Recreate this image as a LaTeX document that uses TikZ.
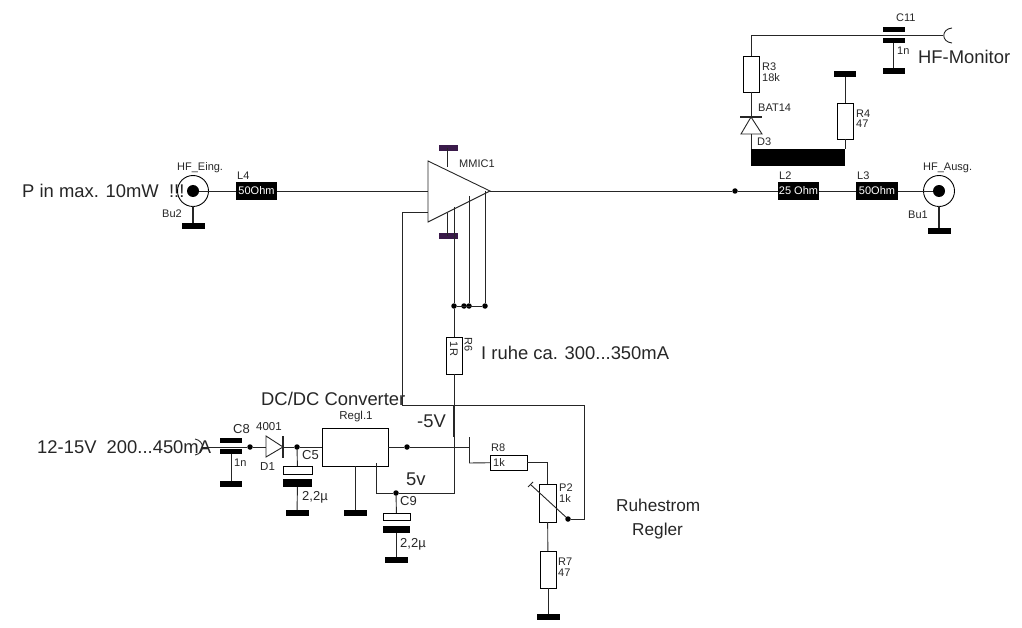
\documentclass[tikz,border=0pt]{standalone}
\usepackage{fontspec}
\setmainfont{Liberation Sans}
\usetikzlibrary{positioning,calc}
\definecolor{gndpurple}{HTML}{3A1A4A}
\tikzset{
  wire/.style={line width=0.9pt,black!85},
  resbox/.style={draw,line width=0.9pt,fill=white,inner sep=0pt,outer sep=0pt},
  linebox/.style={fill=black,text=white,inner sep=0pt,outer sep=0pt,minimum width=41pt,minimum height=17.5pt,font=\fontsize{11}{12}\selectfont},
  gndbar/.style={fill=black,inner sep=0pt,outer sep=0pt,minimum width=23pt,minimum height=6pt},
  plate/.style={fill=black,inner sep=0pt,outer sep=0pt,minimum width=22pt,minimum height=5.5pt},
  jdot/.style={circle,fill=black,inner sep=0pt,outer sep=0pt,minimum size=5.5pt},
  bnc/.style={circle,draw,line width=0.9pt,inner sep=0pt,outer sep=0pt,minimum size=31pt},
  lbl/.style={font=\fontsize{11}{12}\selectfont,inner sep=0pt,anchor=west,text=black!85},
  midlbl/.style={font=\fontsize{13}{14}\selectfont,inner sep=0pt,anchor=west,text=black!85},
  biglbl/.style={font=\fontsize{18.4}{20}\selectfont,inner sep=0pt,anchor=west,text=black!85},
  sidelbl/.style={font=\fontsize{17.2}{20}\selectfont,inner sep=0pt,anchor=west,text=black!85}
}
\begin{document}
\begin{tikzpicture}[x=1pt,y=-1pt]
  \useasboundingbox (0,0) rectangle (1022,628);

  \node[biglbl] (pinlbl) at (22,191) {P in max. 10mW\ \ !!!};
  \node[bnc] (bu2) at (193,191) {};
  \node[jdot,minimum size=12pt] (bu2dot) at (193,191) {};
  \node[gndbar] (bu2gnd) at (193,226) {};
  \node[linebox] (l4) at (256.5,191) {50Ohm};
  \node[lbl] (hfeing) at (177,168) {HF\_Eing.};
  \node[lbl] (bu2lbl) at (162,214) {Bu2};
  \node[lbl] (l4lbl) at (237,176) {L4};
  \draw[wire] (bu2dot) -- (l4);
  \draw[wire,line width=1.3pt] (bu2) -- (bu2gnd);

  \coordinate (ampa) at (428,161);
  \coordinate (ampb) at (428,222);
  \coordinate (amptip) at (490,191);
  \coordinate (ampin) at (428,191);
  \coordinate (ampfb) at (428,212);
  \coordinate (amptop) at (447,167);
  \coordinate (ampbot) at (447,213);
  \coordinate (pina) at (454,207);
  \coordinate (pinb) at (469,196);
  \coordinate (pinc) at (485,191);
  \draw[wire] (ampa) -- (ampb) -- (amptip) -- cycle;
  \node[gndbar,fill=gndpurple,minimum width=19pt] (topgnd) at (448.5,148) {};
  \node[gndbar,fill=gndpurple,minimum width=19pt] (botgnd) at (448.5,236) {};
  \node[lbl] (mmic) at (459,164) {MMIC1};
  \draw[wire] (amptop) -- (amptop |- topgnd);
  \draw[wire] (ampbot) -- (ampbot |- botgnd);
  \draw[wire] (l4) -- (ampin);

  \node[jdot] (ja) at (454,306) {};
  \node[jdot] (jb) at (464,306) {};
  \node[jdot] (jc) at (469,306) {};
  \node[jdot] (jd) at (485,306) {};
  \draw[wire] (ja) -- (jd);
  \draw[wire] (pina) -- (ja);
  \draw[wire] (pinb) -- (jc);
  \draw[wire] (pinc) -- (jd);
  \node[resbox,minimum width=16pt,minimum height=37pt] (r6) at (454,355.5) {};
  \node[lbl,anchor=center,rotate=-90] (r6val) at (454,349) {1R};
  \node[lbl,anchor=center,rotate=-90] (r6lbl) at (468.5,345) {R6};
  \node[biglbl] (iruhe) at (481,353) {I ruhe ca. 300...350mA};
  \draw[wire] (ja) -- (r6);

  \node[jdot] (jout) at (735,191) {};
  \node[linebox] (l2) at (798.5,191) {25 Ohm};
  \node[linebox,minimum width=42pt] (l3) at (877,191) {50Ohm};
  \node[bnc] (bu1) at (939,191) {};
  \node[jdot,minimum size=12pt] (bu1dot) at (939,191) {};
  \node[gndbar] (bu1gnd) at (939,231) {};
  \node[lbl] (l2lbl) at (779,176) {L2};
  \node[lbl] (l3lbl) at (857,176) {L3};
  \node[lbl] (hfausg) at (923,168) {HF\_Ausg.};
  \node[lbl] (bu1lbl) at (908,215) {Bu1};
  \draw[wire] (amptip) -- (jout) -- (l2);
  \draw[wire] (l2) -- (l3);
  \draw[wire] (l3) -- (bu1dot);
  \draw[wire,line width=1.3pt] (bu1) -- (bu1gnd);

  \node[resbox,minimum width=16pt,minimum height=36pt] (r3) at (751,74) {};
  \node[resbox,minimum width=16pt,minimum height=36pt] (r4) at (845,121) {};
  \node[fill=black,inner sep=0pt,outer sep=0pt,minimum width=94pt,minimum height=17pt] (blk) at (798,157.5) {};
  \node[gndbar,minimum width=22pt] (r4gnd) at (845,74) {};
  \node[plate] (c11a) at (893.5,29.5) {};
  \node[plate] (c11b) at (893.5,40.5) {};
  \node[plate,minimum height=6pt] (c11gnd) at (893.5,71) {};
  \coordinate (monjack) at (943,35);
  \coordinate (monup) at (952,28);
  \coordinate (mondn) at (952,43);
  \coordinate (d3k) at (751,117);
  \coordinate (d3a) at (751,134);
  \coordinate (d3l) at (741,134);
  \coordinate (d3r) at (762,134);
  \coordinate (d3bl) at (740,117);
  \coordinate (d3br) at (762,117);
  \draw[wire] (r3.north) |- (monjack);
  \draw[wire] (monup) .. controls (941,29) and (941,42) .. (mondn);
  \draw[wire] (c11b) -- (c11gnd);
  \draw[wire] (r3) -- (d3k);
  \draw[wire,line width=1.4pt] (d3bl) -- (d3br);
  \draw[wire] (d3k) -- (d3l) -- (d3r) -- cycle;
  \draw[wire] (d3a) -- (blk.north west);
  \draw[wire] (r4) -- (blk.north east);
  \draw[wire] (r4) -- (r4gnd);
  \node[lbl] (c11lbl) at (896,18) {C11};
  \node[lbl] (c11val) at (897,51) {1n};
  \node[biglbl] (hfmon) at (918,57) {HF-Monitor};
  \node[lbl] (r3lbl) at (762,67) {R3};
  \node[lbl] (r3val) at (762,78) {18k};
  \node[lbl] (bat) at (758,108) {BAT14};
  \node[lbl] (d3lbl) at (757,142) {D3};
  \node[lbl] (r4lbl) at (856,114) {R4};
  \node[lbl] (r4val) at (856,124) {47};

  \node[biglbl] (inlbl) at (37,447) {12-15V\ \ 200...450mA};
  \coordinate (injack) at (203,447);
  \coordinate (inup) at (195,439);
  \coordinate (indn) at (195,455);
  \draw[wire] (inup) .. controls (205,441) and (205,453) .. (indn);
  \node[plate] (c8a) at (231,440.5) {};
  \node[plate] (c8b) at (231,451.5) {};
  \node[gndbar,minimum width=22pt] (c8gnd) at (231,484) {};
  \node[jdot] (j1) at (250,447) {};
  \coordinate (d1a) at (266,447);
  \coordinate (d1k) at (283,447);
  \coordinate (d1t) at (266,436);
  \coordinate (d1b) at (266,457);
  \coordinate (d1bu) at (283,436);
  \coordinate (d1bd) at (283,458);
  \node[jdot] (j2) at (297,447) {};
  \node[resbox,minimum width=66pt,minimum height=38pt] (regl) at (355,447) {};
  \draw[wire] (injack) -- (j1) -- (d1a);
  \draw[wire] (d1t) -- (d1b) -- (d1k) -- cycle;
  \draw[wire,line width=1.4pt] (d1bu) -- (d1bd);
  \draw[wire] (d1k) -- (j2) -- (regl);
  \draw[wire] (c8b) -- (c8gnd);
  \node[resbox,minimum width=29pt,minimum height=8pt] (c5a) at (297.5,470) {};
  \node[plate,minimum width=29pt,minimum height=8pt] (c5b) at (297.5,483) {};
  \node[gndbar] (c5gnd) at (297,513) {};
  \draw[wire] (j2) -- (c5a);
  \draw[wire] (c5b) -- (c5gnd);
  \node[midlbl] (c8lbl) at (233,429) {C8};
  \node[lbl] (c8val) at (234,463) {1n};
  \node[midlbl,font=\fontsize{11.5}{12}\selectfont] (d1val) at (256,427) {4001};
  \node[midlbl,font=\fontsize{11.5}{12}\selectfont] (d1lbl) at (260,467) {D1};
  \node[midlbl] (c5lbl) at (302,455) {C5};
  \node[midlbl] (c5val) at (302,497) {2,2µ};

  \node[biglbl] (dclbl) at (261,399) {DC/DC Converter};
  \node[lbl,anchor=center,font=\fontsize{11.5}{12}\selectfont] (regllbl) at (356,417) {Regl.1};
  \node[gndbar] (reglgnd) at (355,513) {};
  \draw[wire] (regl.south) -- (reglgnd);
  \coordinate (regl5) at (376,463);
  \coordinate (rail) at (454,493);
  \coordinate (railtop) at (454,437);
  \coordinate (cross) at (454,405);
  \coordinate (ctrlt) at (469,437);
  \coordinate (ctrl) at (469,463);
  \coordinate (ctrlm) at (469,447);
  \node[jdot] (j3) at (407,447) {};
  \node[jdot] (j4) at (396,493) {};
  \draw[wire] (regl.east) -- (j3) -- (ctrlm);
  \draw[wire] (ctrlt) -- (ctrl);
  \draw[wire] (regl5) |- (j4) -- (rail) -- (railtop);
  \draw[wire,line width=1.6pt] (railtop) -- (cross);
  \draw[wire] (cross) -- (r6);
  \node[resbox,minimum width=27pt,minimum height=7pt] (c9a) at (396.5,516.5) {};
  \node[plate,minimum width=27pt,minimum height=7pt] (c9b) at (396.5,529.5) {};
  \node[gndbar] (c9gnd) at (396.5,560) {};
  \draw[wire] (j4) -- (c9a);
  \draw[wire] (c9b) -- (c9gnd);
  \node[midlbl] (c9lbl) at (400,501) {C9};
  \node[midlbl] (c9val) at (400,544) {2,2µ};
  \node[biglbl] (m5lbl) at (417,421) {-5V};
  \node[biglbl] (p5lbl) at (406,479) {5v};

  \node[resbox,minimum width=37pt,minimum height=15pt] (r8) at (508.5,462.5) {};
  \node[lbl] (r8val) at (493,463) {1k};
  \node[lbl] (r8lbl) at (491,448) {R8};
  \node[resbox,minimum width=17pt,minimum height=38pt] (p2) at (547.5,503) {};
  \node[resbox,minimum width=16pt,minimum height=37pt] (r7) at (548,569.5) {};
  \node[gndbar] (r7gnd) at (548,617) {};
  \node[jdot] (wiper) at (568,519) {};
  \coordinate (wipera) at (530.5,484.5);
  \coordinate (wipert) at (528,487);
  \coordinate (wiperu) at (533,482);
  \coordinate (fbleft) at (402,212);
  \coordinate (fbtop) at (402,405);
  \coordinate (fbright) at (584,405);
  \coordinate (fblow) at (584,519);
  \draw[wire] (ctrl) -- (r8);
  \draw[wire] (r8) -| (p2);
  \draw[wire] (p2) -- (r7);
  \draw[wire] (r7) -- (r7gnd);
  \draw[wire] (wipert) -- (wiperu);
  \draw[wire] (wipera) -- (wiper);
  \draw[wire] (ampfb) -- (fbleft) -- (fbtop) -- (fbright) -- (fblow) -- (wiper);
  \node[lbl] (p2lbl) at (559,488) {P2};
  \node[lbl] (p2val) at (559,499) {1k};
  \node[lbl] (r7lbl) at (558,562) {R7};
  \node[lbl] (r7val) at (558,573) {47};
  \node[sidelbl] (ruhe) at (616,505) {Ruhestrom};
  \node[sidelbl] (regler) at (632,531) {Regler};
\end{tikzpicture}
\end{document}
